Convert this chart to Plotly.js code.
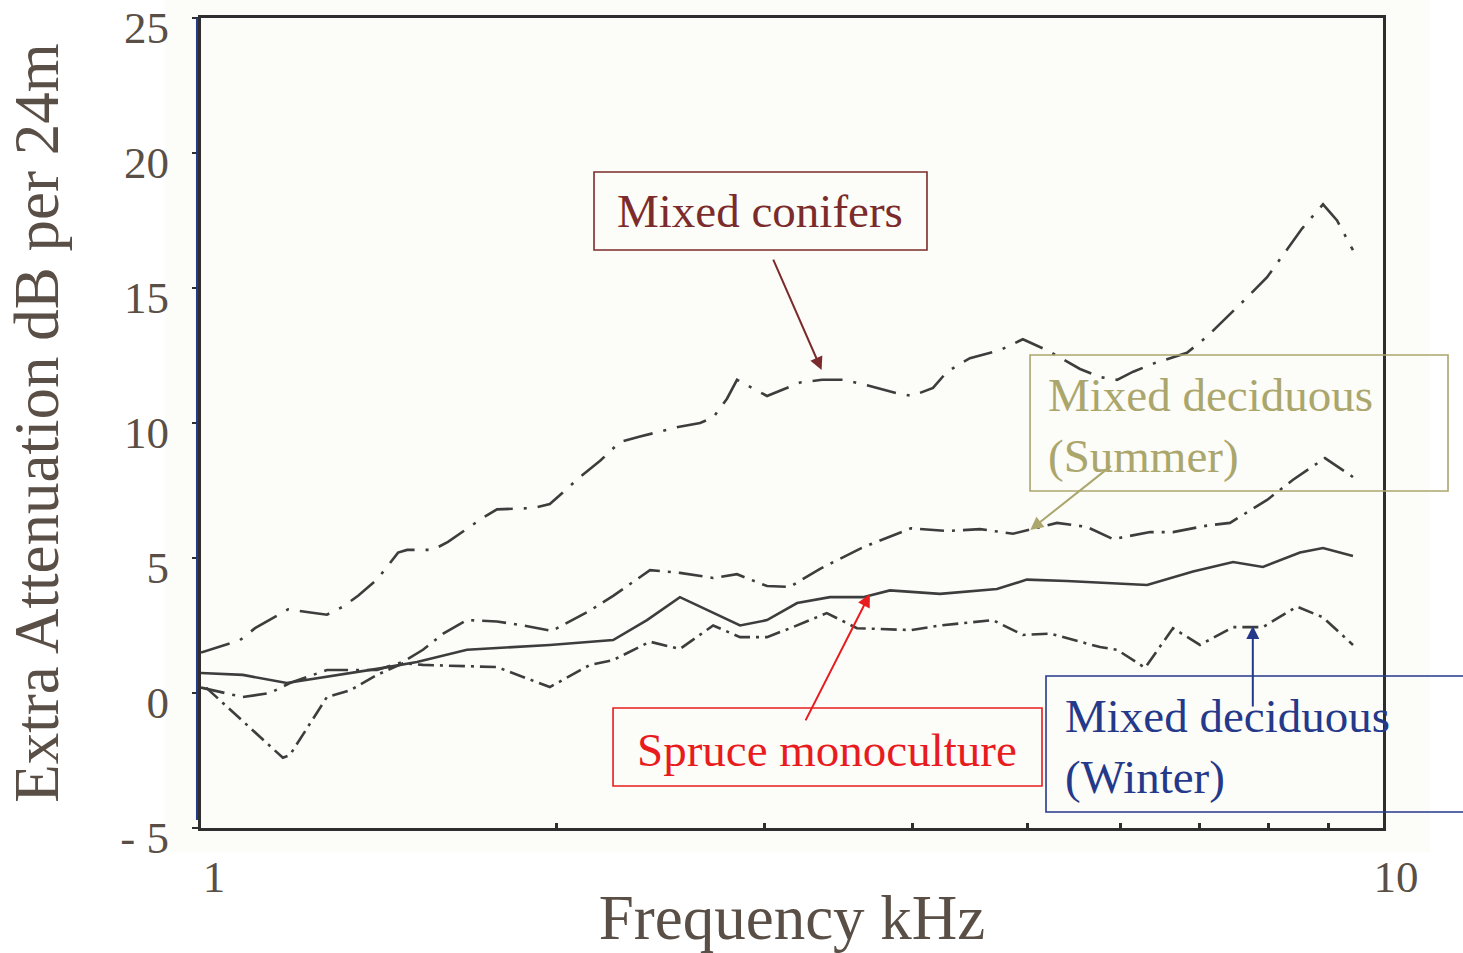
<!DOCTYPE html>
<html>
<head>
<meta charset="utf-8">
<script src="https://cdn.plot.ly/plotly-3.0.1.min.js"></script>
<style>
  html, body { margin: 0; padding: 0; background: #ffffff; }
  #chart { width: 1463px; height: 953px; }
</style>
</head>
<body>
<div id="chart"></div>
<script>
// ---- Data (frequency in kHz, extra attenuation in dB per 24 m) ----
const freqConifers = [1.0, 1.079, 1.111, 1.185, 1.229, 1.278, 1.319, 1.358, 1.409, 1.468, 1.494, 1.571, 1.618, 1.733, 1.780, 1.909, 1.973, 2.093, 2.176, 2.262, 2.352, 2.533, 2.644, 2.712, 2.786, 2.841, 3.012, 3.131, 3.213, 3.353, 3.493, 3.660, 3.880, 3.995, 4.162, 4.277, 4.472, 4.742, 4.958, 5.195, 5.542, 5.762, 5.957, 6.147, 6.391, 6.826, 7.097, 7.613, 7.979, 8.541, 8.897, 9.144, 9.432];
const attConifers = [1.5, 1.96, 2.4, 3.1, 3.0, 2.9, 3.2, 3.6, 4.2, 5.2, 5.3, 5.3, 5.6, 6.5, 6.8, 6.85, 7.0, 8.0, 8.6, 9.3, 9.5, 9.85, 10.0, 10.2, 10.9, 11.6, 11.0, 11.3, 11.5, 11.6, 11.6, 11.4, 11.1, 11.0, 11.3, 11.9, 12.4, 12.7, 13.1, 12.7, 12.0, 11.7, 11.6, 11.9, 12.2, 12.6, 13.2, 14.5, 15.4, 17.2, 18.1, 17.5, 16.4];

const freqSummer = [1.0, 1.085, 1.144, 1.189, 1.278, 1.409, 1.482, 1.541, 1.603, 1.679, 1.780, 1.873, 1.981, 2.133, 2.232, 2.398, 2.542, 2.712, 2.841, 3.012, 3.149, 3.340, 3.632, 3.987, 4.277, 4.561, 4.864, 5.299, 5.617, 5.910, 6.354, 6.642, 7.097, 7.423, 7.979, 8.393, 8.931, 9.432];
const attSummer = [0.2, -0.15, 0.0, 0.37, 0.85, 0.85, 1.15, 1.6, 2.2, 2.7, 2.65, 2.5, 2.3, 3.05, 3.6, 4.55, 4.45, 4.26, 4.4, 3.96, 3.93, 4.6, 5.4, 6.1, 6.0, 6.07, 5.9, 6.3, 6.15, 5.7, 5.96, 5.96, 6.2, 6.3, 7.15, 7.9, 8.7, 8.0];

const freqSpruce = [1.0, 1.085, 1.182, 1.261, 1.426, 1.523, 1.679, 1.973, 2.232, 2.384, 2.542, 2.858, 3.012, 3.194, 3.405, 3.632, 3.827, 4.219, 4.714, 4.997, 5.403, 6.316, 6.907, 7.467, 7.914, 8.507, 8.897, 9.432];
const attSpruce = [0.74, 0.67, 0.37, 0.56, 0.93, 1.15, 1.6, 1.78, 1.96, 2.7, 3.55, 2.5, 2.7, 3.33, 3.55, 3.55, 3.8, 3.67, 3.85, 4.2, 4.15, 4.0, 4.5, 4.85, 4.67, 5.2, 5.37, 5.07];

const freqWinter = [1.01, 1.058, 1.173, 1.189, 1.278, 1.337, 1.409, 1.482, 1.541, 1.780, 1.973, 2.133, 2.232, 2.398, 2.542, 2.712, 2.858, 3.012, 3.168, 3.384, 3.589, 3.987, 4.219, 4.677, 4.958, 5.228, 5.762, 5.957, 6.291, 6.642, 7.001, 7.467, 7.914, 8.457, 8.897, 9.432];
const attWinter = [0.2, -0.6, -2.4, -2.3, -0.15, 0.1, 0.67, 1.1, 1.04, 0.96, 0.22, 1.04, 1.22, 1.9, 1.63, 2.5, 2.07, 2.07, 2.44, 2.96, 2.4, 2.33, 2.5, 2.7, 2.15, 2.2, 1.7, 1.6, 0.93, 2.4, 1.78, 2.44, 2.44, 3.2, 2.8, 1.78];

const xTickVals = [1, 2, 3, 4, 5, 6, 7, 8, 9, 10];
const xTickText = ['1', '', '', '', '', '', '', '', '', '10'];
const yTickVals = [-5, 0, 5, 10, 15, 20, 25];
const yTickText = ['- 5', '0', '5', '10', '15', '20', '25'];

const labelConifers = 'Mixed conifers';
const labelSummer = 'Mixed deciduous<br>(Summer)';
const labelSpruce = 'Spruce monoculture';
const labelWinter = 'Mixed deciduous<br>(Winter)';

// Arrow tips (kHz, dB)
const tipConifers = [3.35, 11.96];
const tipSummer = [5.03, 6.04];
const tipSpruce = [3.68, 3.67];
const tipWinter = [7.76, 2.48];

// ---- Styles ----
const SERIF = '"Liberation Serif", "Times New Roman", Times, serif';
const AXIS_TEXT = '#5a4f46';
const LINE = '#3d3d3d';
const C_CON = '#7b2b2b';
const C_SUM = '#aba66c';
const C_SPR = '#e81c1e';
const C_WIN = '#25398a';

function tr(x, y, name, dash) {
  return { x: x, y: y, name: name, type: 'scatter', mode: 'lines',
    line: { color: LINE, width: 2.6, dash: dash, shape: 'linear' }, hoverinfo: 'x+y+name' };
}

const data = [
  tr(freqConifers, attConifers, 'Mixed conifers', '30px,11px,3px,11px'),
  tr(freqSummer, attSummer, 'Mixed deciduous (Summer)', '24px,8px,3px,8px'),
  tr(freqSpruce, attSpruce, 'Spruce monoculture', 'solid'),
  tr(freqWinter, attWinter, 'Mixed deciduous (Winter)', '16px,6px,3px,6px')
];

function box(x0, x1, y0, y1, color) {
  return { type: 'rect', xref: 'paper', yref: 'paper', x0: x0, x1: x1, y0: y0, y1: y1,
    line: { color: color, width: 1.6 }, fillcolor: 'rgba(0,0,0,0)', layer: 'above' };
}

function label(text, x, y, color, xanchor) {
  return { text: text, xref: 'paper', yref: 'paper', x: x, y: y, xanchor: xanchor, yanchor: 'middle',
    align: 'left', showarrow: false, font: { family: SERIF, size: 47, color: color } };
}

function arrow(tip, ax, ay, color) {
  return { text: '', xref: 'x', yref: 'y', x: Math.log10(tip[0]), y: tip[1],
    axref: 'pixel', ayref: 'pixel', ax: ax, ay: ay, showarrow: true,
    arrowhead: 2, arrowsize: 1.3, arrowwidth: 2, arrowcolor: color, standoff: 0, startstandoff: 0 };
}

const layout = {
  width: 1463, height: 953,
  margin: { l: 201, r: 80, t: 18, b: 125 },
  paper_bgcolor: '#ffffff',
  plot_bgcolor: 'rgba(0,0,0,0)',
  showlegend: false,
  font: { family: SERIF, color: AXIS_TEXT },
  xaxis: {
    type: 'log', range: [0, 1],
    tickvals: xTickVals, ticktext: xTickText,
    ticks: 'inside', ticklen: 5, tickwidth: 3, tickcolor: '#2e2e2e',
    showline: true, mirror: true, linecolor: '#2e2e2e', linewidth: 3,
    showgrid: false, zeroline: false,
    tickfont: { family: SERIF, size: 45, color: AXIS_TEXT },
    ticklabelstandoff: 7, ticklabelshift: 13, ticklabeloverflow: 'allow',
    title: { text: 'Frequency kHz', font: { family: SERIF, size: 63, color: AXIS_TEXT }, standoff: 0 }
  },
  yaxis: {
    range: [-5, 25],
    tickvals: yTickVals, ticktext: yTickText,
    ticks: 'outside', ticklen: 6, tickwidth: 2, tickcolor: '#2e2e2e',
    showline: true, mirror: true, linecolor: '#2e2e2e', linewidth: 3,
    showgrid: false, zeroline: false,
    tickfont: { family: SERIF, size: 45, color: AXIS_TEXT },
    ticklabelstandoff: 14, ticklabelshift: 9, ticklabeloverflow: 'allow',
    title: { text: 'Extra Attenuation dB per 24m', font: { family: SERIF, size: 63, color: AXIS_TEXT }, standoff: 42 }
  },
  shapes: [
    { type: 'rect', xref: 'paper', yref: 'paper', x0: -0.0305, x1: 1.0398, y0: -0.0296, y1: 1.03,
      line: { width: 0 }, fillcolor: '#fcfcf8', layer: 'below' },
    { type: 'line', xref: 'paper', yref: 'paper', x0: -0.0034, x1: -0.0034, y0: 0.0099, y1: 1.0,
      line: { color: C_WIN, width: 2 }, layer: 'above' },
    box(0.3325, 0.6142, 0.7136, 0.8099, C_CON),
    box(0.7014, 1.0550, 0.4160, 0.5840, C_SUM),
    box(0.3486, 0.7115, 0.0519, 0.1481, C_SPR),
    box(0.7149, 1.0800, 0.0198, 0.1877, C_WIN)
  ],
  annotations: [
    label(labelConifers, 0.4729, 0.7617, C_CON, 'center'),
    label(labelSummer, 0.7150, 0.4963, C_SUM, 'left'),
    label(labelSpruce, 0.5300, 0.0963, C_SPR, 'center'),
    label(labelWinter, 0.7290, 0.1006, C_WIN, 'left'),
    arrow(tipConifers, -49, -112, C_CON),
    arrow(tipSummer, 82, -65, C_SUM),
    arrow(tipSpruce, -65, 128, C_SPR),
    arrow(tipWinter, 0, 82, C_WIN)
  ]
};

Plotly.newPlot('chart', data, layout, { displayModeBar: false, staticPlot: true });
</script>
</body>
</html>
